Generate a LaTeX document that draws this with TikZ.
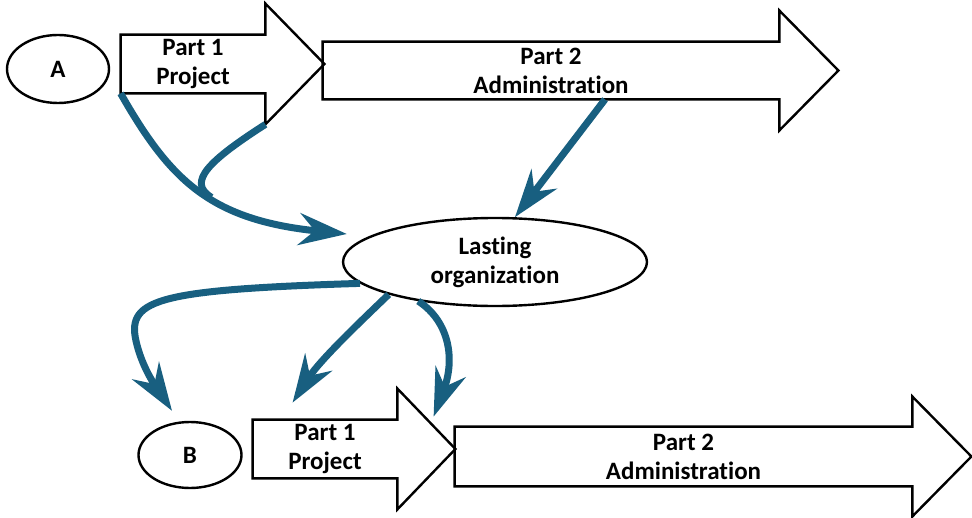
\documentclass[tikz,border=0pt]{standalone}
\usepackage{fontspec}
\setmainfont{Carlito}[Ligatures=NoCommon]
\usepackage{tikz}
\usetikzlibrary{positioning, arrows.meta, shapes.geometric, calc}
\definecolor{flowblue}{HTML}{185F80}

\tikzset{
  outline/.style={draw=black, line width=1.2pt, line join=miter},
  partbox/.style={inner sep=0pt, align=center, font=\bfseries\fontsize{12.5}{14.5}\selectfont},
  oval/.style={ellipse, draw=black, line width=1.2pt, inner sep=0pt, align=center,
               font=\bfseries\fontsize{12.5}{14.5}\selectfont},
  flowline/.style={draw=flowblue, line width=3.5pt},
  flow/.style={flowline, -{Stealth[length=24pt, width=16pt, inset=8pt]}},
}

% outline of a block arrow round its shaft node: #1 node, #2 head length, #3 head overhang
\newcommand{\blockarrow}[3]{%
  \draw[outline] (#1.north west) -- (#1.north east)
    -- ($(#1.north east)+(0,-#3)$) coordinate (#1-hu)
    -- ($(#1.east)+(#2,0)$) coordinate (#1-tip)
    -- ($(#1.south east)+(0,#3)$) coordinate (#1-hd)
    -- (#1.south east) -- (#1.south west) -- cycle;}

\begin{document}
\begin{tikzpicture}[x=0.5pt, y=-0.5pt]
  \useasboundingbox (0,0) rectangle (972,518);

  % top row
  \node[oval, minimum width=51pt, minimum height=34pt] (a) at (58,69) {A};
  \node[partbox, minimum width=72pt, minimum height=29pt] (p1a) at (193,64) {Part 1\\Project};
  \node[partbox, minimum width=228pt, minimum height=28.5pt] (p2a) at (551,70.5) {Part 2\\Administration};
  \blockarrow{p1a}{59}{31}
  \blockarrow{p2a}{59}{31}

  % lasting organization
  \node[oval, minimum width=152pt, minimum height=44pt] (lo) at (495,262) {Lasting\\organization};

  % bottom row
  \node[oval, minimum width=51.5pt, minimum height=33pt] (b) at (190,455) {B};
  \node[partbox, minimum width=72pt, minimum height=29pt] (p1b) at (325,449) {Part 1\\Project};
  \node[partbox, minimum width=228.5pt, minimum height=29.5pt] (p2b) at (683.5,456.5) {Part 2\\Administration};
  \blockarrow{p1b}{58}{31}
  \blockarrow{p2b}{59}{30}

  % into the lasting organization
  \coordinate (merge) at (211.5,197.4);
  \draw[flow] (p1a.south west) .. controls (170,180) and (210,220) .. ($(lo.west)+(5,-28)$);
  \draw[flowline] (p1a-hd) .. controls (210,160) and (186,182) .. (merge);
  \draw[flow] ($(p2a.south)+(54,0)$) -- (lo.66);

  % out of the lasting organization
  \draw[flow] (lo.189) .. controls (150,290) and (125,300) .. (137,345)
    .. controls (144,372) and (159,391) .. ($(b.north)+(-18,-10)$);
  \draw[flow] (lo.197) .. controls (360,322) and (320,360) .. ($(p1b.north west)+(40,-17)$);
  \draw[flow] (lo.207) .. controls (450,322) and (455,360) .. ($(p2b.north west)+(-21,-10)$);
\end{tikzpicture}
\end{document}
